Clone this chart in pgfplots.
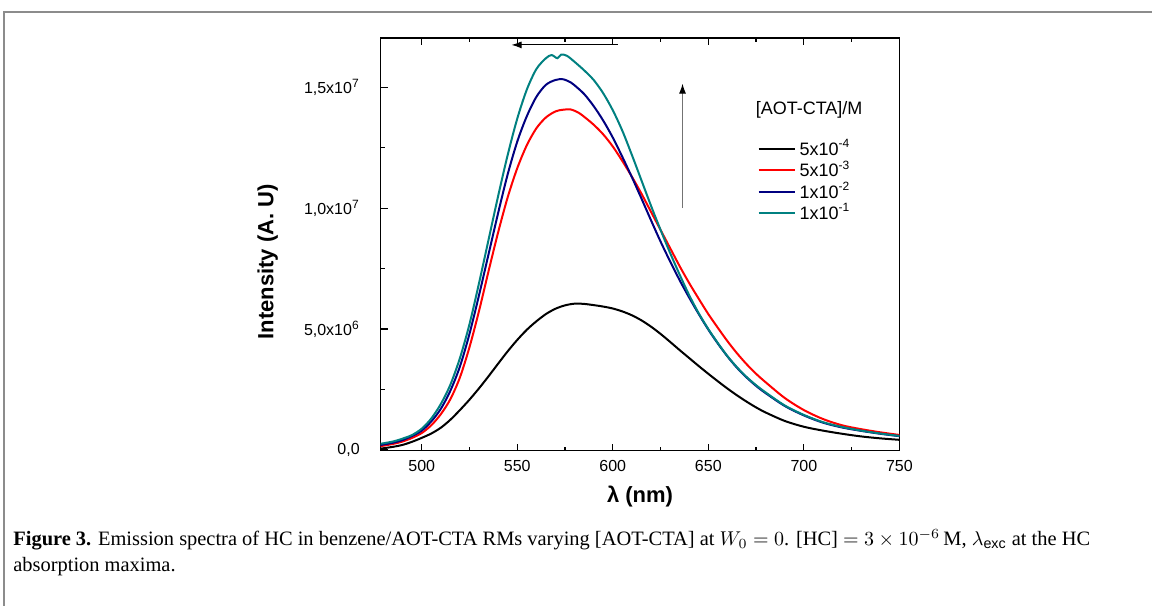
\documentclass[border=0pt]{standalone}
\usepackage{pgfplots}
\pgfplotsset{compat=1.18}
\usepackage{pgfplotstable}
\usepackage{fontspec}
\setmainfont{Liberation Sans}
\newfontfamily\capfont{Liberation Serif}
\usetikzlibrary{arrows.meta}
\definecolor{cnavy}{RGB}{0,0,128}
\definecolor{cteal}{RGB}{0,128,128}

\pgfplotstableread{
x y
478 0.05e6
485 0.13e6
490 0.21e6
495 0.34e6
500 0.50e6
505 0.68e6
510 0.92e6
515 1.25e6
520 1.65e6
525 2.08e6
530 2.55e6
535 3.05e6
540 3.57e6
545 4.08e6
550 4.55e6
555 4.97e6
560 5.32e6
565 5.62e6
570 5.84e6
575 5.98e6
580 6.05e6
585 6.04e6
590 5.99e6
595 5.93e6
600 5.85e6
605 5.73e6
610 5.57e6
615 5.36e6
620 5.10e6
625 4.80e6
630 4.47e6
635 4.13e6
640 3.80e6
645 3.47e6
650 3.15e6
655 2.84e6
660 2.54e6
665 2.26e6
670 2.00e6
675 1.76e6
680 1.55e6
690 1.20e6
700 0.96e6
710 0.80e6
720 0.67e6
730 0.56e6
740 0.48e6
750 0.42e6
}\blackdata

\pgfplotstableread{
x y
478 0.15e6
485 0.25e6
490 0.35e6
495 0.50e6
500 0.70e6
505 1.02e6
510 1.48e6
515 2.10e6
520 3.00e6
525 4.25e6
530 5.75e6
535 7.40e6
540 9.00e6
545 10.45e6
550 11.65e6
555 12.6e6
560 13.3e6
565 13.75e6
570 14.0e6
574 14.07e6
578 14.08e6
582 13.95e6
585 13.78e6
590 13.45e6
595 13.05e6
600 12.55e6
605 11.95e6
610 11.3e6
615 10.6e6
620 9.85e6
625 9.1e6
630 8.35e6
635 7.6e6
640 6.9e6
645 6.25e6
650 5.62e6
655 5.05e6
660 4.5e6
665 4.0e6
670 3.55e6
675 3.15e6
680 2.8e6
690 2.15e6
700 1.65e6
710 1.28e6
720 1.02e6
730 0.86e6
740 0.73e6
750 0.62e6
}\reddata

\pgfplotstableread{
x y
478 0.20e6
485 0.30e6
490 0.41e6
495 0.58e6
500 0.80e6
505 1.18e6
510 1.70e6
515 2.45e6
520 3.45e6
525 4.80e6
530 6.40e6
535 8.10e6
540 9.80e6
545 11.4e6
550 12.75e6
555 13.8e6
560 14.6e6
565 15.1e6
570 15.3e6
574 15.33e6
578 15.2e6
580 15.08e6
585 14.72e6
590 14.22e6
595 13.62e6
600 12.92e6
605 12.12e6
610 11.28e6
615 10.4e6
620 9.5e6
625 8.62e6
630 7.8e6
635 7.02e6
640 6.3e6
645 5.62e6
650 4.98e6
655 4.4e6
660 3.87e6
665 3.4e6
670 3.0e6
675 2.65e6
680 2.35e6
690 1.82e6
700 1.43e6
710 1.13e6
720 0.93e6
730 0.79e6
740 0.67e6
750 0.57e6
}\navydata

\pgfplotstableread{
x y
478 0.25e6
485 0.35e6
490 0.47e6
495 0.62e6
500 0.88e6
505 1.30e6
510 1.90e6
515 2.70e6
520 3.80e6
525 5.20e6
530 6.90e6
535 8.70e6
540 10.5e6
545 12.2e6
550 13.7e6
555 14.9e6
560 15.75e6
565 16.2e6
568 16.33e6
571 16.2e6
573 16.35e6
576 16.3e6
580 16.05e6
585 15.7e6
590 15.3e6
595 14.75e6
600 14.05e6
605 13.2e6
610 12.2e6
615 11.15e6
620 10.1e6
625 9.1e6
630 8.15e6
635 7.25e6
640 6.4e6
645 5.65e6
650 5.0e6
655 4.42e6
660 3.88e6
665 3.42e6
670 3.02e6
675 2.68e6
680 2.38e6
690 1.84e6
700 1.45e6
710 1.15e6
720 0.95e6
730 0.80e6
740 0.68e6
750 0.58e6
}\tealdata

\begin{document}
\begin{tikzpicture}
\path (0,0) rectangle (576.5pt,303pt);
\draw[black!45, line width=0.8pt] (2pt,0) -- (2pt,297pt) -- (576.5pt,297pt);
\begin{axis}[
  at={(190.5pt,77.5pt)}, anchor=south west,
  scale only axis, width=259.5pt, height=206.5pt,
  xmin=478.56, xmax=750, ymin=-3e4, ymax=1.7037e7,
  xtick={500,550,600,650,700,750},
  minor xtick={525,575,625,675,725},
  ytick={0,5e6,1e7,1.5e7},
  yticklabels={{0,0},{5,0x10\textsuperscript{6}},{1,0x10\textsuperscript{7}},{1,5x10\textsuperscript{7}}},
  minor ytick={2.5e6,7.5e6,12.5e6},
  scaled y ticks=false,
  tick align=inside,
  xtick pos=both, ytick pos=left,
  major tick length=3.5pt, minor tick length=2pt,
  axis line style={line width=0.75pt},
  every tick/.style={black, line width=0.6pt},
  /pgf/number format/assume math mode=true,
  tick label style={font=\fontsize{8}{9}\selectfont},
  xticklabel style={yshift=-1.5pt},
  yticklabel style={xshift=-7pt},
  xlabel={\textbf{λ (nm)}},
  ylabel={\textbf{Intensity (A. U)}},
  label style={font=\fontsize{11}{12}\selectfont},
  xlabel style={at={(axis description cs:0.5,-0.111)}, anchor=center},
  ylabel style={at={(axis description cs:-0.218,0.458)}, anchor=center},
  legend style={draw=none, fill=none, at={(rel axis cs:0.726,0.765)}, anchor=north west,
    font=\fontsize{9}{10}\selectfont, inner sep=0pt, row sep=-2.8pt},
  legend cell align=left,
  legend image code/.code={\draw[#1, line width=1pt] (0pt,0pt) -- (18pt,0pt);},
  clip=true,
]
\addplot[black, line width=1pt, smooth, tension=0.5] table[x=x,y=y] {\blackdata};
\addlegendentry{5x10\textsuperscript{-4}}
\addplot[red, line width=1pt, smooth, tension=0.5] table[x=x,y=y] {\reddata};
\addlegendentry{5x10\textsuperscript{-3}}
\addplot[cnavy, line width=1pt, smooth, tension=0.5] table[x=x,y=y] {\navydata};
\addlegendentry{1x10\textsuperscript{-2}}
\addplot[cteal, line width=1pt, smooth, tension=0.5] table[x=x,y=y] {\tealdata};
\addlegendentry{1x10\textsuperscript{-1}}
\node[font=\fontsize{9}{10}\selectfont, anchor=center] at (rel axis cs:0.826,0.826) {[AOT-CTA]/M};
\draw[black, line width=0.5pt, -{Latex[length=5pt,width=3.5pt]}] (axis cs:602.5,1.675e7) -- (axis cs:547,1.675e7);
\draw[black!55, line width=0.6pt, -{Latex[length=5pt,width=3.5pt,black]}] (axis cs:636.5,1.0e7) -- (axis cs:636.5,1.515e7);
\end{axis}
\node[inner sep=0pt, anchor=base west, font=\capfont\fontsize{10.22}{12}\selectfont] at (6.5pt,30pt)
  {\textbf{Figure 3.} Emission spectra of HC in benzene/AOT-CTA RMs varying [AOT-CTA] at $W_0 = 0$. [HC] $= 3\times10^{-6}$\,M, $\lambda_{\mathrm{exc}}$ at the HC};
\node[inner sep=0pt, anchor=base west, font=\capfont\fontsize{10.22}{12}\selectfont] at (6.5pt,17pt)
  {absorption maxima.};
\end{tikzpicture}
\end{document}
